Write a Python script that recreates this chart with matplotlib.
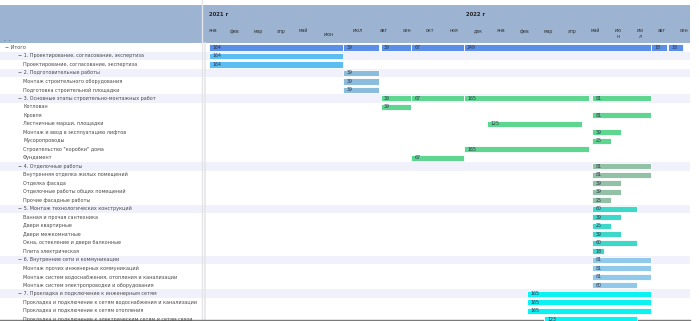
import matplotlib
matplotlib.use("Agg")
import matplotlib.pyplot as plt
import matplotlib.transforms as mtransforms
from matplotlib.patches import Rectangle
from matplotlib.lines import Line2D
import numpy as np
import pandas as pd

# ---------- данные ----------
row_labels = [
    "Итого",
    "1. Проектирование, согласование, экспертиза",
    "Проектирование, согласование, экспертиза",
    "2. Подготовительные работы",
    "Монтаж строительного оборудования",
    "Подготовка строительной площадки",
    "3. Основные этапы строительно-монтажных работ",
    "Котлован",
    "Кровля",
    "Лестничные марши, площадки",
    "Монтаж и ввод в эксплуатацию лифтов",
    "Мусоропроводы",
    "Строительство \"коробки\" дома",
    "Фундамент",
    "4. Отделочные работы",
    "Внутренняя отделка жилых помещений",
    "Отделка фасада",
    "Отделочные работы общих помещений",
    "Прочие фасадные работы",
    "5. Монтаж технологических конструкций",
    "Ванная и прочая сантехника",
    "Двери квартирные",
    "Двери межкомнатные",
    "Окна, остекление и двери балконные",
    "Плита электрическая",
    "6. Внутренние сети и коммуникации",
    "Монтаж прочих инженерных коммуникаций",
    "Монтаж систем водоснабжения, отопления и канализации",
    "Монтаж систем электропроводки и оборудования",
    "7. Прокладка и подключение к инженерным сетям",
    "Прокладка и подключение к сетям водоснабжения и канализации",
    "Прокладка и подключение к сетям отопления",
    "Прокладка и подключение к электрическим сетям и сетям связи",
]
# 0 - итог, 1 - раздел, 2 - работа
row_levels = [0, 1, 2, 1, 2, 2, 1, 2, 2, 2, 2, 2, 2, 2, 1, 2, 2, 2, 2,
              1, 2, 2, 2, 2, 2, 1, 2, 2, 2, 1, 2, 2, 2]

years = ["2021 г", "2022 г"]
months = ["янв", "фев", "мар", "апр", "май", "июн", "июл", "авг", "сен", "окт", "ноя", "дек",
          "янв", "фев", "мар", "апр", "май", "ию\nн", "ию\nл", "авг", "сен"]

bar_rows = [0, 0, 0, 0, 0, 0, 0,
            1, 2,
            3, 4, 5,
            6, 6, 6, 6, 7, 8, 9, 10, 11, 12, 13,
            14, 15, 16, 17, 18,
            19, 20, 21, 22, 23, 24,
            25, 26, 27, 28,
            29, 30, 31, 32]
bar_start = ["2021-01-10", "2021-07-01", "2021-08-12", "2021-09-21", "2021-11-28", "2022-08-01", "2022-08-25",
             "2021-01-10", "2021-01-10",
             "2021-07-01", "2021-07-01", "2021-07-01",
             "2021-08-12", "2021-09-21", "2021-11-28", "2022-05-12", "2021-08-12", "2022-05-12",
             "2021-12-28", "2022-05-12", "2022-05-12", "2021-11-28", "2021-09-21",
             "2022-05-12", "2022-05-12", "2022-05-12", "2022-05-12", "2022-05-12",
             "2022-05-12", "2022-05-12", "2022-05-12", "2022-05-12", "2022-05-12", "2022-05-12",
             "2022-05-12", "2022-05-12", "2022-05-12", "2022-05-12",
             "2022-02-17", "2022-02-17", "2022-02-17", "2022-03-11"]
bar_end = ["2021-07-01", "2021-08-10", "2021-09-21", "2021-11-28", "2022-08-01", "2022-08-23", "2022-09-15",
           "2021-07-01", "2021-07-01",
           "2021-08-10", "2021-08-10", "2021-08-10",
           "2021-09-21", "2021-11-28", "2022-05-08", "2022-08-01", "2021-09-21", "2022-08-01",
           "2022-04-29", "2022-06-20", "2022-06-06", "2022-05-08", "2021-11-28",
           "2022-08-01", "2022-08-01", "2022-06-20", "2022-06-20", "2022-06-06",
           "2022-07-12", "2022-06-20", "2022-06-06", "2022-06-20", "2022-07-12", "2022-05-28",
           "2022-08-01", "2022-08-01", "2022-08-01", "2022-07-12",
           "2022-08-01", "2022-08-01", "2022-08-01", "2022-07-12"]
bar_values = [164, 39, 39, 67, 249, 18, 18,
              164, 164,
              39, 39, 39,
              39, 67, 165, 81, 39, 81, 125, 39, 25, 165, 67,
              81, 81, 39, 39, 25,
              60, 39, 25, 39, 60, 18,
              81, 81, 81, 60,
              165, 165, 165, 123]

# ---------- оформление ----------
W, H = 699, 321
MONTH_EDGES = [203, 224, 246, 270, 292, 315, 343, 372, 396, 419, 442, 466,
               490, 513, 537, 560, 584, 607, 629, 651, 673, 695]
GROUP_COLORS = ["#5b8ee6", "#5bbdf0", "#8bbcdc", "#5fd690",
                "#93c1a5", "#3ed8c8", "#90c9ea", "#0af2f2"]
ROW0_Y, ROW_STEP = 47.5, 8.49
HEADER_TOP, HEADER_BOTTOM, RIGHT = 5, 43, 690
plt.rcParams["font.family"] = ["DejaVu Sans"]

idx = np.arange(len(MONTH_EDGES))
edges = np.array(MONTH_EDGES, float)


def fwd(m):
    m = np.asarray(m, float)
    out = np.interp(m, idx, edges)
    out = np.where(m < 0, edges[0] + m * (edges[1] - edges[0]), out)
    return np.where(m > idx[-1], edges[-1] + (m - idx[-1]) * (edges[-1] - edges[-2]), out)


def inv(p):
    p = np.asarray(p, float)
    out = np.interp(p, edges, idx)
    out = np.where(p < edges[0], (p - edges[0]) / (edges[1] - edges[0]), out)
    return np.where(p > edges[-1], idx[-1] + (p - edges[-1]) / (edges[-1] - edges[-2]), out)


def month_pos(d):
    d = pd.Timestamp(d)
    return (d.year - 2021) * 12 + d.month - 1 + (d.day - 1) / d.days_in_month


groups = []
g = 0
for lv in row_levels:
    if lv == 1:
        g += 1
    groups.append(g)

fig = plt.figure(figsize=(W / 100, H / 100), dpi=100)
ax = fig.add_axes([MONTH_EDGES[0] / W, 0, (MONTH_EDGES[-1] - MONTH_EDGES[0]) / W,
                   (H - HEADER_BOTTOM) / H])
ax.set_xscale("function", functions=(fwd, inv))
ax.set_xlim(0, len(months))
y_top = (HEADER_BOTTOM - ROW0_Y) / ROW_STEP
y_bot = (H - ROW0_Y) / ROW_STEP
ax.set_ylim(y_bot, y_top)
ax.patch.set_visible(False)
ax.axis("off")

row_tr = mtransforms.blended_transform_factory(fig.transFigure, ax.transData)
col_tr = mtransforms.blended_transform_factory(ax.transData, fig.transFigure)

# полосы разделов
for i, lv in enumerate(row_levels):
    if lv == 1:
        fig.add_artist(Rectangle((0, i - 0.5), RIGHT / W, 1, transform=row_tr,
                                 facecolor="#f0f1fb", edgecolor="none", zorder=-2))

# шапка
fig.add_artist(Rectangle((0, 1 - HEADER_BOTTOM / H), RIGHT / W, (HEADER_BOTTOM - HEADER_TOP) / H,
                         transform=fig.transFigure, facecolor="#9cb4d1", edgecolor="none", zorder=-2))
fig.add_artist(Line2D([202 / W, 202 / W], [0, 1], transform=fig.transFigure,
                      color="#e2e4e8", lw=1.0, zorder=-1))
fig.add_artist(Line2D([204.5 / W, 204.5 / W], [0, 1 - HEADER_BOTTOM / H], transform=fig.transFigure,
                      color="#e6e6e6", lw=1.2, zorder=-1))
fig.add_artist(Line2D([0, RIGHT / W], [1 - 319.8 / H] * 2, transform=fig.transFigure,
                      color="#7a7a7a", lw=1.0, zorder=-1))
fig.text(4 / W, 1 - 40 / H, "-  -", fontsize=3.5, color="#44506a", va="center")

fig.text(209 / W, 1 - 14 / H, years[0], fontsize=3.8, fontweight="bold", color="#222", va="center")
fig.text(466 / W, 1 - 14 / H, years[1], fontsize=3.8, fontweight="bold", color="#222", va="center")
for k, m in enumerate(months):
    yy = 31
    if k == 5:
        yy = 34.5
    elif "\n" in m:
        yy = 33.5
    ax.text(k + 0.5, 1 - yy / H, m, transform=col_tr, fontsize=3.4, color="#333",
            ha="center", va="center", linespacing=1.0, clip_on=False)

# подписи строк
for i, (lab, lv) in enumerate(zip(row_labels, row_levels)):
    if lv == 0:
        x, txt = 5, "− " + lab
    elif lv == 1:
        x, txt = 18, "− " + lab
    else:
        x, txt = 23, lab
    ax.text(x / W, i, txt, transform=row_tr, fontsize=3.5, color="#4a4a4a",
            va="center", ha="left", clip_on=False)

# полосы работ
for r, s, e, v in zip(bar_rows, bar_start, bar_end, bar_values):
    x0, x1 = month_pos(s), month_pos(e)
    ax.barh(r, x1 - x0, left=x0, height=0.72, color=GROUP_COLORS[groups[r]],
            edgecolor="white", linewidth=0.6, zorder=2)
    ax.annotate(str(v), (x0, r), xytext=(2.5, 0), textcoords="offset points",
                fontsize=3.4, color="#2e3550", va="center", ha="left", zorder=3,
                annotation_clip=True)

fig.savefig("out.png", dpi=100)
